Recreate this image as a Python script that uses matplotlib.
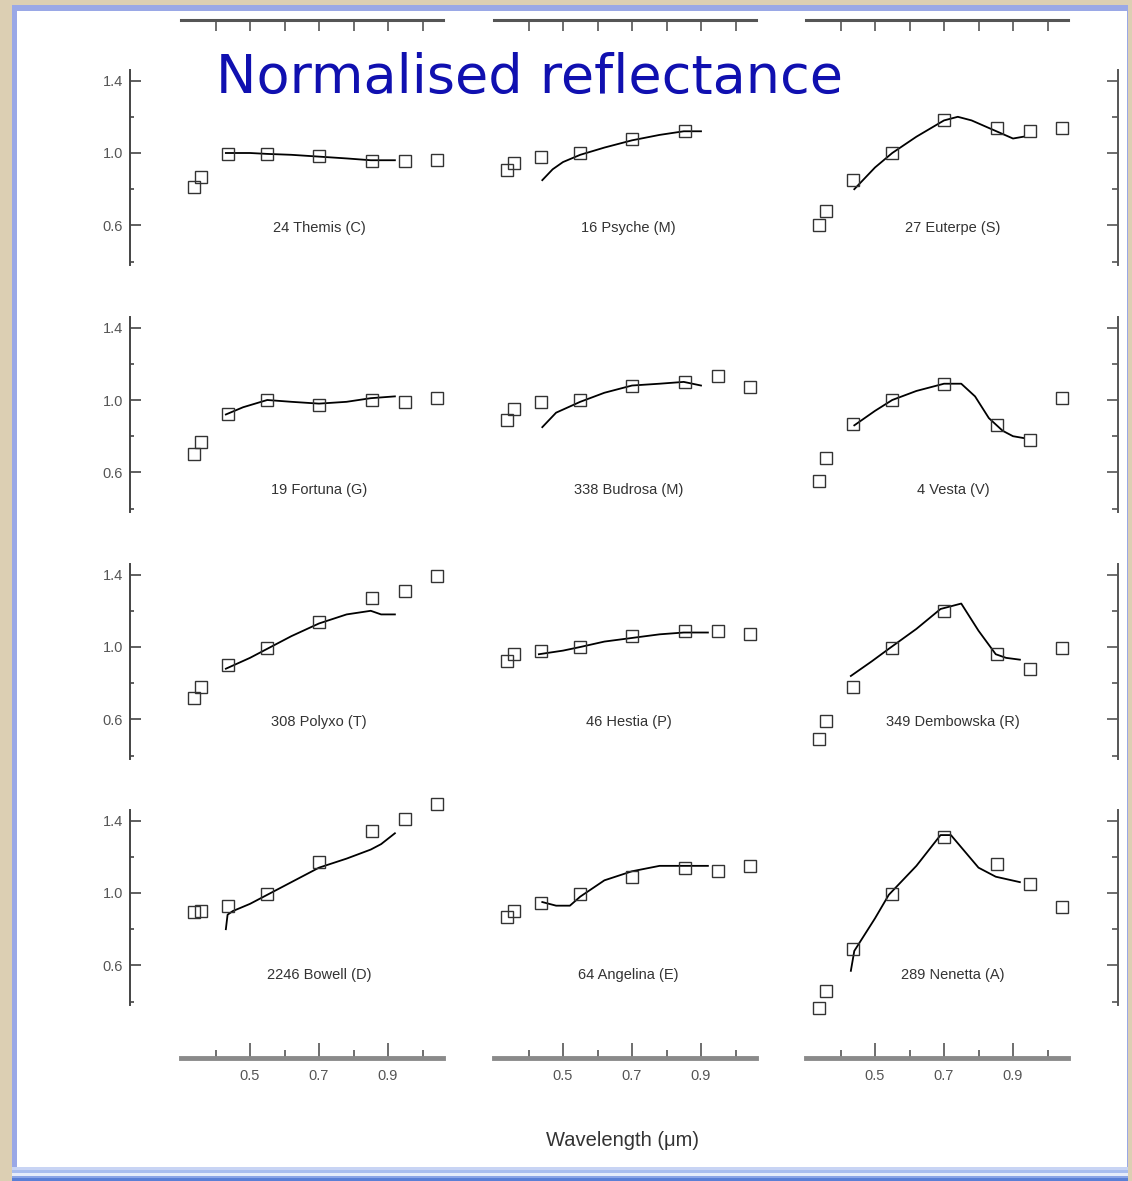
import matplotlib
matplotlib.use("Agg")
import matplotlib.pyplot as plt
import numpy as np
from matplotlib.patches import Rectangle

nan = np.nan

# ECAS filter wavelengths (um)
ecas_wl = [0.337, 0.359, 0.437, 0.550, 0.701, 0.853, 0.948, 1.041]

names = ["24 Themis (C)", "16 Psyche (M)", "27 Euterpe (S)",
         "19 Fortuna (G)", "338 Budrosa (M)", "4 Vesta (V)",
         "308 Polyxo (T)", "46 Hestia (P)", "349 Dembowska (R)",
         "2246 Bowell (D)", "64 Angelina (E)", "289 Nenetta (A)"]

# filter photometry (squares)
themis = [0.81, 0.87, 0.995, 0.995, 0.985, 0.955, 0.955, 0.96]
psyche = [0.906, 0.945, 0.98, 1.0, 1.077, 1.12, nan, nan]
euterpe = [0.60, 0.68, 0.85, 1.0, 1.18, 1.14, 1.12, 1.14]
fortuna = [0.70, 0.77, 0.92, 1.0, 0.97, 1.0, 0.99, 1.01]
budrosa = [0.89, 0.95, 0.99, 1.0, 1.08, 1.10, 1.13, 1.07]
vesta = [0.55, 0.68, 0.87, 1.0, 1.09, 0.86, 0.78, 1.01]
polyxo = [0.72, 0.78, 0.90, 0.995, 1.14, 1.27, 1.31, 1.39]
hestia = [0.92, 0.96, 0.98, 1.0, 1.06, 1.09, 1.09, 1.07]
dembowska = [0.49, 0.59, 0.78, 0.995, 1.20, 0.96, 0.88, 0.995]
bowell = [0.895, 0.90, 0.93, 0.995, 1.17, 1.34, 1.41, 1.49]
angelina = [0.87, 0.90, 0.945, 0.995, 1.09, 1.14, 1.12, 1.15]
nenetta = [0.365, 0.46, 0.69, 0.995, 1.31, 1.16, 1.05, 0.92]

# spectra (lines)
themis_wl = [0.43, 0.50, 0.55, 0.62, 0.70, 0.78, 0.85, 0.92]
themis_sp = [1.0, 1.0, 0.995, 0.99, 0.98, 0.97, 0.96, 0.96]
psyche_wl = [0.44, 0.47, 0.50, 0.55, 0.62, 0.70, 0.78, 0.85, 0.90]
psyche_sp = [0.85, 0.91, 0.95, 0.99, 1.03, 1.07, 1.10, 1.12, 1.12]
euterpe_wl = [0.44, 0.50, 0.55, 0.62, 0.70, 0.74, 0.78, 0.84, 0.90, 0.93]
euterpe_sp = [0.80, 0.92, 1.0, 1.09, 1.18, 1.20, 1.18, 1.13, 1.08, 1.09]
fortuna_wl = [0.43, 0.48, 0.55, 0.62, 0.70, 0.78, 0.85, 0.92]
fortuna_sp = [0.92, 0.96, 1.0, 0.99, 0.98, 0.99, 1.01, 1.02]
budrosa_wl = [0.44, 0.48, 0.55, 0.62, 0.70, 0.78, 0.85, 0.90]
budrosa_sp = [0.85, 0.93, 0.99, 1.04, 1.08, 1.09, 1.10, 1.08]
vesta_wl = [0.44, 0.50, 0.55, 0.62, 0.70, 0.75, 0.79, 0.83, 0.87, 0.90, 0.93]
vesta_sp = [0.86, 0.94, 1.0, 1.05, 1.09, 1.09, 1.02, 0.90, 0.83, 0.80, 0.79]
polyxo_wl = [0.43, 0.50, 0.55, 0.62, 0.70, 0.78, 0.85, 0.88, 0.92]
polyxo_sp = [0.88, 0.94, 0.99, 1.06, 1.13, 1.18, 1.20, 1.18, 1.18]
hestia_wl = [0.43, 0.50, 0.55, 0.62, 0.70, 0.78, 0.85, 0.92]
hestia_sp = [0.96, 0.98, 1.0, 1.03, 1.05, 1.07, 1.08, 1.08]
dembowska_wl = [0.43, 0.49, 0.54, 0.62, 0.69, 0.75, 0.80, 0.85, 0.88, 0.92]
dembowska_sp = [0.84, 0.92, 0.99, 1.10, 1.21, 1.24, 1.09, 0.96, 0.94, 0.93]
bowell_wl = [0.43, 0.435, 0.45, 0.50, 0.55, 0.62, 0.70, 0.78, 0.85, 0.88, 0.92]
bowell_sp = [0.80, 0.88, 0.90, 0.94, 0.99, 1.06, 1.14, 1.19, 1.24, 1.27, 1.33]
angelina_wl = [0.44, 0.48, 0.52, 0.55, 0.62, 0.70, 0.78, 0.85, 0.92]
angelina_sp = [0.95, 0.93, 0.93, 0.98, 1.07, 1.12, 1.15, 1.15, 1.15]
nenetta_wl = [0.43, 0.44, 0.50, 0.54, 0.62, 0.69, 0.72, 0.80, 0.85, 0.92]
nenetta_sp = [0.57, 0.68, 0.86, 0.99, 1.15, 1.32, 1.32, 1.14, 1.09, 1.06]

points = [themis, psyche, euterpe, fortuna, budrosa, vesta,
          polyxo, hestia, dembowska, bowell, angelina, nenetta]
spectra = [(themis_wl, themis_sp), (psyche_wl, psyche_sp), (euterpe_wl, euterpe_sp),
           (fortuna_wl, fortuna_sp), (budrosa_wl, budrosa_sp), (vesta_wl, vesta_sp),
           (polyxo_wl, polyxo_sp), (hestia_wl, hestia_sp), (dembowska_wl, dembowska_sp),
           (bowell_wl, bowell_sp), (angelina_wl, angelina_sp), (nenetta_wl, nenetta_sp)]

label_x = [0.70, 0.69, 0.726]
label_y = [0.586, 0.503, 0.586, 0.547]

W, H = 1132, 1181
fig = plt.figure(figsize=(W / 100, H / 100), dpi=100, facecolor="#dccfb3")

# page frame
bg = fig.add_axes([0, 0, 1, 1], zorder=-5)
bg.set_xlim(0, W)
bg.set_ylim(H, 0)
bg.axis("off")
bg.add_patch(Rectangle((12, 5), 1116, 1176, color="#9aa8e6", lw=0))
bg.add_patch(Rectangle((17, 11), 1110, 1156, color="white", lw=0))
for y0, c in [(1167, "#c8d4f4"), (1170, "#a9bdee"), (1173, "#e6ecfa"), (1176, "#8aa4e6"), (1178, "#5a7fd6")]:
    bg.add_patch(Rectangle((12, y0), 1116, 1181 - y0, color=c, lw=0))

# panel geometry (pixels)
x05 = [250, 563, 875]
y10 = [153, 400, 647, 893]
sx, sy = 345.0, 181.0
xlo, xhi = 0.30, 1.06
ylo, yhi = 0.38, 1.46
px2pt = 0.72

tick_font = dict(family="Liberation Sans", size=10.5, color="#555555")

for r in range(4):
    for c in range(3):
        i = r * 3 + c
        left = x05[c] + (xlo - 0.5) * sx
        right = x05[c] + (xhi - 0.5) * sx
        top = y10[r] - (yhi - 1.0) * sy
        bottom = y10[r] - (ylo - 1.0) * sy
        ax = fig.add_axes([left / W, 1 - bottom / H, (right - left) / W, (bottom - top) / H])
        ax.patch.set_alpha(0)
        ax.set_xlim(xlo, xhi)
        ax.set_ylim(ylo, yhi)
        for s in ax.spines.values():
            s.set_visible(False)

        ax.plot(spectra[i][0], spectra[i][1], color="black", lw=1.3, zorder=2, clip_on=False)
        ax.plot(ecas_wl, points[i], ls="none", marker="s", ms=9, mfc="none",
                mec="#333333", mew=1.0, zorder=3, clip_on=False)
        ax.text(label_x[c], label_y[r], names[i], ha="center", va="center",
                family="Liberation Sans", fontsize=10.5, color="#333333")

        ax.tick_params(which="both", left=False, right=False, top=False, bottom=False,
                       labelleft=False, labelright=False, labeltop=False, labelbottom=False)

        if c == 0:
            sp = ax.spines["left"]
            sp.set_visible(True)
            sp.set_position(("outward", (left - 130) * px2pt))
            sp.set_color("#444444")
            sp.set_linewidth(1.4)
            ax.set_yticks([0.6, 1.0, 1.4])
            ax.set_yticklabels(["0.6", "1.0", "1.4"], fontdict=tick_font)
            ax.set_yticks([0.4, 0.8, 1.2], minor=True)
            ax.tick_params(axis="y", which="major", left=True, labelleft=True,
                           direction="in", length=8, width=1.2, color="#444444", pad=5)
            ax.tick_params(axis="y", which="minor", left=True, direction="in",
                           length=3, width=1.2, color="#444444")
        if c == 2:
            sp = ax.spines["right"]
            sp.set_visible(True)
            sp.set_position(("outward", (1118 - right) * px2pt))
            sp.set_color("#555555")
            sp.set_linewidth(1.4)
            ax.set_yticks([0.6, 1.0, 1.4])
            ax.set_yticks([0.4, 0.8, 1.2], minor=True)
            ax.tick_params(axis="y", which="major", right=True, direction="in",
                           length=8, width=1.2, color="#555555")
            ax.tick_params(axis="y", which="minor", right=True, direction="in",
                           length=4, width=1.2, color="#555555")
        if r == 0:
            sp = ax.spines["top"]
            sp.set_visible(True)
            sp.set_position(("outward", (top - 20) * px2pt))
            sp.set_color("#555555")
            sp.set_linewidth(2.2)
            ax.set_xticks([0.5, 0.7, 0.9])
            ax.set_xticks([0.4, 0.6, 0.8, 1.0], minor=True)
            ax.tick_params(axis="x", which="both", top=True, direction="in",
                           length=8, width=1.2, color="#555555")
        if r == 3:
            sp = ax.spines["bottom"]
            sp.set_visible(True)
            sp.set_position(("outward", (1058 - bottom) * px2pt))
            sp.set_color("#8a8a8a")
            sp.set_linewidth(3.5)
            ax.set_xticks([0.5, 0.7, 0.9])
            ax.set_xticklabels(["0.5", "0.7", "0.9"], fontdict=tick_font)
            ax.set_xticks([0.4, 0.6, 0.8, 1.0], minor=True)
            ax.tick_params(axis="x", which="major", bottom=True, labelbottom=True,
                           direction="in", length=11, width=1.2, color="#555555", pad=8)
            ax.tick_params(axis="x", which="minor", bottom=True, direction="in",
                           length=6, width=1.2, color="#555555")

fig.text(530 / W, 1 - 78 / H, "Normalised reflectance", ha="center", va="center",
         fontsize=39, color="#1010b0", family="DejaVu Sans")
fig.text(623 / W, 1 - 1141 / H, "Wavelength (\u03bcm)", ha="center", va="center",
         fontsize=14.5, color="#333333", family="Liberation Sans")

fig.savefig("out.png", dpi=100, facecolor=fig.get_facecolor())
